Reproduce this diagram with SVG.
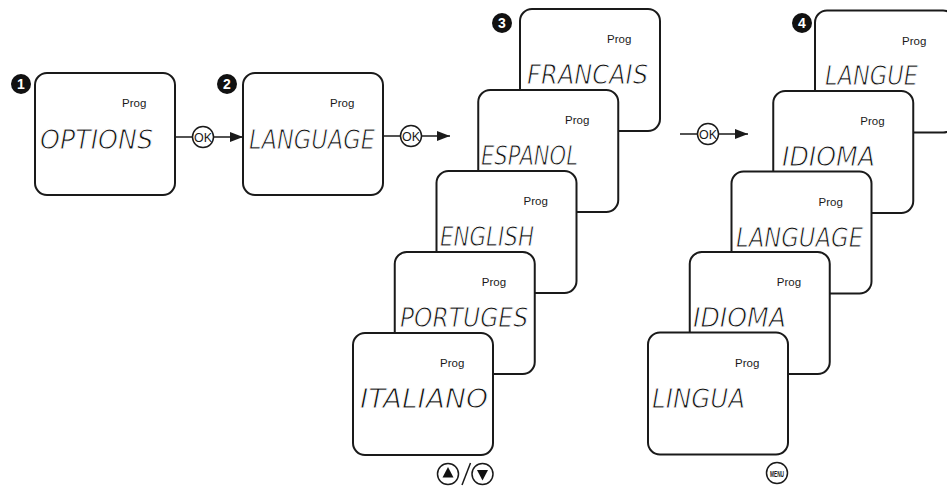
<svg xmlns="http://www.w3.org/2000/svg" width="947" height="487" viewBox="0 0 947 487">
<style>
.box{fill:#fff;stroke:#1a1a1a;stroke-width:2}
.prog{font-family:"Liberation Sans",Arial,sans-serif;font-size:11.5px;fill:#1a1a1a}
.lcd{font-family:"DejaVu Sans","Liberation Sans",sans-serif;font-weight:200;font-style:oblique;font-size:26px;fill:#111;stroke:#fff;stroke-width:0.9px}
.badge{fill:#111}
.bnum{font-family:"Liberation Sans",Arial,sans-serif;font-weight:bold;font-size:14px;fill:#fff;text-anchor:middle}
.ln{stroke:#1a1a1a;stroke-width:1.5;fill:none}
.btn{fill:#fff;stroke:#1a1a1a;stroke-width:1.5}
.ok{font-family:"Liberation Sans",Arial,sans-serif;font-size:12.5px;fill:#1a1a1a;text-anchor:middle}
</style>
<defs>
<marker id="ah" markerUnits="userSpaceOnUse" markerWidth="14" markerHeight="10" refX="13" refY="5" orient="auto">
<path d="M0,0 L13,5 L0,10 Z" fill="#1a1a1a"/>
</marker>
</defs>

<g id="node1">
<rect class="box" x="35" y="73" width="140" height="122" rx="12"/>
<text class="prog" x="122" y="107">Prog</text>
<text class="lcd" x="40" y="148.5" textLength="113" lengthAdjust="spacingAndGlyphs">OPTIONS</text>
<circle class="badge" cx="21" cy="84" r="10"/><text class="bnum" x="21" y="89">1</text>
</g>

<g id="node2">
<rect class="box" x="243" y="73" width="140" height="122" rx="12"/>
<text class="prog" x="330" y="107">Prog</text>
<text class="lcd" x="249" y="148.5" textLength="126" lengthAdjust="spacingAndGlyphs">LANGUAGE</text>
<circle class="badge" cx="227" cy="84" r="10"/><text class="bnum" x="227" y="89">2</text>
</g>

<g id="node3-francais">
<rect class="box" x="520" y="9" width="140" height="122" rx="12"/>
<text class="prog" x="607" y="43">Prog</text>
<text class="lcd" x="527" y="84" textLength="121" lengthAdjust="spacingAndGlyphs">FRANCAIS</text>
<circle class="badge" cx="502" cy="23" r="10"/><text class="bnum" x="502" y="28">3</text>
</g>
<g id="node3-espanol">
<rect class="box" x="478.25" y="90" width="140" height="122" rx="12"/>
<text class="prog" x="565" y="124">Prog</text>
<text class="lcd" x="481" y="165" textLength="97" lengthAdjust="spacingAndGlyphs">ESPANOL</text>
</g>
<g id="node3-english">
<rect class="box" x="436.5" y="171" width="140" height="122" rx="12"/>
<text class="prog" x="523.5" y="205">Prog</text>
<text class="lcd" x="440" y="246" textLength="94" lengthAdjust="spacingAndGlyphs">ENGLISH</text>
</g>
<g id="node3-portuges">
<rect class="box" x="394.75" y="252" width="140" height="122" rx="12"/>
<text class="prog" x="481.75" y="286">Prog</text>
<text class="lcd" x="400" y="327" textLength="128" lengthAdjust="spacingAndGlyphs">PORTUGES</text>
</g>
<g id="node3-italiano">
<rect class="box" x="353" y="333" width="140" height="122" rx="12"/>
<text class="prog" x="440" y="367">Prog</text>
<text class="lcd" x="360" y="408" textLength="128" lengthAdjust="spacingAndGlyphs">ITALIANO</text>
</g>

<g id="node4-langue">
<rect class="box" x="815" y="10.5" width="140" height="122" rx="12"/>
<text class="prog" x="902" y="44.5">Prog</text>
<text class="lcd" x="825" y="84.5" textLength="93" lengthAdjust="spacingAndGlyphs">LANGUE</text>
<circle class="badge" cx="802" cy="23" r="10"/><text class="bnum" x="802" y="28">4</text>
</g>
<g id="node4-idioma">
<rect class="box" x="773.25" y="91" width="140" height="122" rx="12"/>
<text class="prog" x="860.25" y="125">Prog</text>
<text class="lcd" x="782" y="166" textLength="93" lengthAdjust="spacingAndGlyphs">IDIOMA</text>
</g>
<g id="node4-language">
<rect class="box" x="731.5" y="171.5" width="140" height="122" rx="12"/>
<text class="prog" x="818.5" y="205.5">Prog</text>
<text class="lcd" x="736" y="246.5" textLength="127" lengthAdjust="spacingAndGlyphs">LANGUAGE</text>
</g>
<g id="node4-idioma2">
<rect class="box" x="689.75" y="252" width="140" height="122" rx="12"/>
<text class="prog" x="776.75" y="286">Prog</text>
<text class="lcd" x="693" y="327" textLength="93" lengthAdjust="spacingAndGlyphs">IDIOMA</text>
</g>
<g id="node4-lingua">
<rect class="box" x="648" y="332.5" width="140" height="122" rx="12"/>
<text class="prog" x="735" y="366.5">Prog</text>
<text class="lcd" x="652" y="407.5" textLength="93" lengthAdjust="spacingAndGlyphs">LINGUA</text>
</g>

<g id="connectors">
<line class="ln" x1="175" y1="137" x2="192.5" y2="137"/>
<circle class="btn" cx="203" cy="137" r="10.5"/>
<text class="ok" x="203" y="141.5">OK</text>
<line class="ln" x1="213.5" y1="137" x2="243" y2="137" marker-end="url(#ah)"/>

<line class="ln" x1="383" y1="136" x2="400.5" y2="136"/>
<circle class="btn" cx="411" cy="136" r="10.5"/>
<text class="ok" x="411" y="140.5">OK</text>
<line class="ln" x1="421.5" y1="136" x2="450" y2="136" marker-end="url(#ah)"/>

<line class="ln" x1="680" y1="134" x2="697.5" y2="134"/>
<circle class="btn" cx="708" cy="134" r="10.5"/>
<text class="ok" x="708" y="138.5">OK</text>
<line class="ln" x1="718.5" y1="134" x2="748" y2="134" marker-end="url(#ah)"/>
</g>

<g id="updown">
<circle class="btn" cx="448" cy="474" r="10.5"/>
<path d="M448,467 L442.5,477.5 L453.5,477.5 Z" fill="#111"/>
<line class="ln" x1="462" y1="485" x2="470.5" y2="463"/>
<circle class="btn" cx="482.5" cy="474" r="10.5"/>
<path d="M477,470 L488,470 L482.5,480.5 Z" fill="#111"/>
</g>

<g id="menu">
<circle class="btn" cx="777" cy="473" r="10.5"/>
<text x="777" y="476.5" font-family="Liberation Sans,Arial,sans-serif" font-weight="bold" font-size="9" text-anchor="middle" textLength="14" lengthAdjust="spacingAndGlyphs" fill="#1a1a1a">MENU</text>
</g>
</svg>
